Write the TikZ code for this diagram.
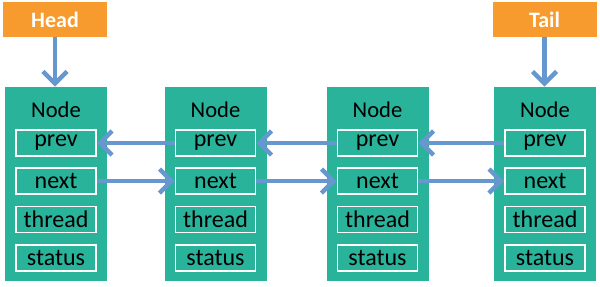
\documentclass[tikz,border=0pt]{standalone}
\usepackage{fontspec}
\setmainfont{Carlito}
\usetikzlibrary{arrows.meta,positioning}
\definecolor{nodeteal}{HTML}{2AB39B}
\definecolor{ptrorange}{HTML}{F79B2E}
\definecolor{linkblue}{HTML}{6697CE}
\tikzset{
  >=Latex,
  ptr/.style={
    rectangle, fill=ptrorange, minimum width=52pt, minimum height=17.5pt,
    inner sep=0pt, font=\fontsize{11}{12}\selectfont\bfseries, text=white
  },
  listnode/.style={
    rectangle, fill=nodeteal, minimum width=51pt, minimum height=97pt, inner sep=0pt
  },
  nodetitle/.style={font=\fontsize{11.3}{12}\selectfont, text=black},
  field/.style={
    rectangle, draw=white, line width=0.9pt, fill=nodeteal,
    minimum width=40pt, minimum height=13pt, inner sep=0pt,
    font=\fontsize{12}{12}\selectfont, text=black
  },
  link/.style={-{Straight Barb[length=6pt,width=12pt,line width=2.2pt]}, line width=2.2pt, draw=linkblue}
}
% one list element: box, title and its four fields
\newcommand{\elem}[2]{
  \node[listnode] (#1) at (#2,184) {};
  \node[nodetitle] (#1title) at (#2,110) {Node};
  \node[field] (#1prev) at (#2,143) {prev};
  \node[field] (#1next) at (#2,181) {next};
  \node[field] (#1thread) at (#2,219.5) {thread};
  \node[field] (#1status) at (#2,258) {status};
}
\begin{document}
\begin{tikzpicture}[x=0.5pt,y=-0.5pt]
\useasboundingbox (0,0) rectangle (600,286);
\elem{n1}{56}
\elem{n2}{215.5}
\elem{n3}{377.5}
\elem{n4}{545}
\node[ptr] (head) at (55,19.5) {Head};
\node[ptr] (tail) at (544.5,19.5) {Tail};
\draw[link] (head) -- (head |- n1.north);
\draw[link] (tail) -- (tail |- n4.north);
\draw[link] (n2prev.west) -- (n1prev.east);
\draw[link] (n3prev.west) -- (n2prev.east);
\draw[link] (n4prev.west) -- (n3prev.east);
\draw[link] (n1next.east) -- (n2next.west);
\draw[link] (n2next.east) -- (n3next.west);
\draw[link] (n3next.east) -- (n4next.west);
\end{tikzpicture}
\end{document}
